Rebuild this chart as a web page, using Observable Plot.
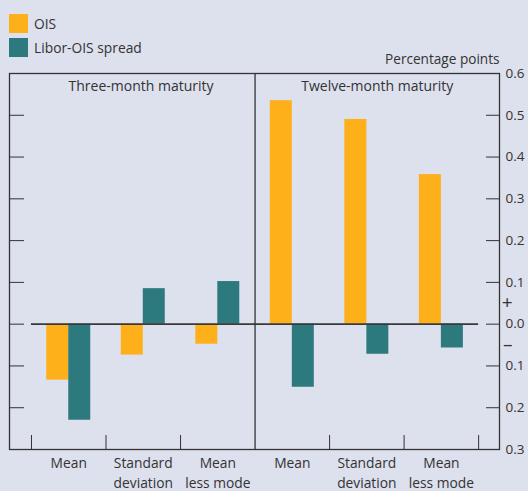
<!DOCTYPE html>
<html><head><meta charset="utf-8">
<script src="https://cdn.jsdelivr.net/npm/d3@7"></script>
<script src="https://cdn.jsdelivr.net/npm/@observablehq/plot@0.6"></script>
<style>
body{margin:0;background:#dde0ed;font-family:"Open Sans",sans-serif;color:#333;}
#wrap{width:528px;height:491px;position:relative;overflow:hidden;background:#dde0ed;}
#head{position:relative;height:50px;}
.sw{position:absolute;left:9px;width:19px;height:19px;}
.lt{position:absolute;left:34px;font-size:13.8px;line-height:19px;white-space:nowrap;}
#chart svg{display:block;}
</style></head>
<body><div id="wrap"><div id="head"></div><div id="chart"></div></div>
<script>
const categories = ["Mean", "Standard\ndeviation", "Mean\nless mode"];
const panels = ["Three-month maturity", "Twelve-month maturity"];
const series = ["OIS", "Libor-OIS spread"];
const colors = ["#fdb019", "#2c7a7e"];
const oisThree = [-0.134, -0.074, -0.048];
const liborThree = [-0.23, 0.085, 0.102];
const oisTwelve = [0.535, 0.49, 0.358];
const liborTwelve = [-0.151, -0.072, -0.057];
const yTicks = [-0.3, -0.2, -0.1, 0, 0.1, 0.2, 0.3, 0.4, 0.5, 0.6];
const yTickLabels = ["0.3", "0.2", "0.1", "0.0", "0.1", "0.2", "0.3", "0.4", "0.5", "0.6"];
const signLabels = ["+", "–"];
const signValues = [0.05, -0.05];
const unitLabel = "Percentage points";

const values = [[oisThree, liborThree], [oisTwelve, liborTwelve]];
const rows = [];
panels.forEach((p, pi) => categories.forEach((c, ci) => series.forEach((s, si) => {
  rows.push({panel: p, cat: c, series: s, value: values[pi][si][ci], idx: pi * 3 + ci});
})));
const catRows = [];
panels.forEach((p, pi) => categories.forEach((c, ci) => catRows.push({cat: c, idx: pi * 3 + ci})));

// header legend
const head = document.getElementById("head");
series.forEach((s, i) => {
  const sw = document.createElement("div");
  sw.className = "sw"; sw.style.top = (14 + 24 * i) + "px"; sw.style.background = colors[i];
  head.appendChild(sw);
  const t = document.createElement("div");
  t.className = "lt"; t.style.top = (14 + 24 * i) + "px"; t.textContent = s;
  head.appendChild(t);
});

const barW = 0.295;
const nCat = categories.length;
const nAll = nCat * panels.length;
const tickPos = d3.range(0, nAll + 1).filter(i => i !== nCat);
const labelMap = new Map(yTicks.map((t, i) => [t, yTickLabels[i]]));

const chart = Plot.plot({
  width: 528,
  height: 441,
  marginTop: 23,
  marginBottom: 42,
  marginLeft: 9,
  marginRight: 29,
  style: {background: "transparent", fontFamily: "Open Sans", fontSize: "13.5px", color: "#333"},
  x: {type: "linear", domain: [-0.295, nAll + 0.28]},
  y: {domain: [-0.3, 0.6]},
  color: {domain: series, range: colors},
  marks: [
    Plot.rectY(rows, {
      x1: d => d.idx + 0.5 - (d.series === series[0] ? barW : 0),
      x2: d => d.idx + 0.5 + (d.series === series[0] ? 0 : barW),
      y: "value",
      fill: "series"
    }),
    Plot.ruleY([0], {x1: 0, x2: nAll, stroke: "#3a3a3a", strokeWidth: 1.6}),
    Plot.ruleX([nCat], {stroke: "#333", strokeWidth: 1.3}),
    Plot.frame({stroke: "#333", strokeWidth: 1.3}),
    Plot.axisY({anchor: "left", ticks: yTicks, tickSize: -15, tickFormat: () => "", label: null, color: "#333"}),
    Plot.axisY({anchor: "right", ticks: yTicks, tickSize: -14, tickPadding: 20, tickFormat: d => labelMap.get(Math.round(d * 10) / 10), label: null, color: "#333", fontSize: 13.5}),
    Plot.text(signLabels, {y: (d, i) => signValues[i], text: d => d, frameAnchor: "right", dx: 13, fontSize: 19}),
    Plot.axisX({anchor: "bottom", ticks: tickPos, tickSize: -14, tickFormat: () => "", label: null, color: "#333"}),
    Plot.text(catRows, {x: d => d.idx + 0.5, text: "cat", frameAnchor: "bottom", lineAnchor: "top", dy: 5, lineHeight: 1.4, fontSize: 13.8}),
    Plot.text(panels, {x: (d, i) => i === 0 ? 1.47 : 4.64, text: d => d, frameAnchor: "top", lineAnchor: "top", dy: 8, fontSize: 14}),
    Plot.text([unitLabel], {text: d => d, frameAnchor: "top-right", textAnchor: "end", lineAnchor: "bottom", dy: -10, fontSize: 13.6})
  ]
});
document.getElementById("chart").appendChild(chart);
</script>
</body></html>
